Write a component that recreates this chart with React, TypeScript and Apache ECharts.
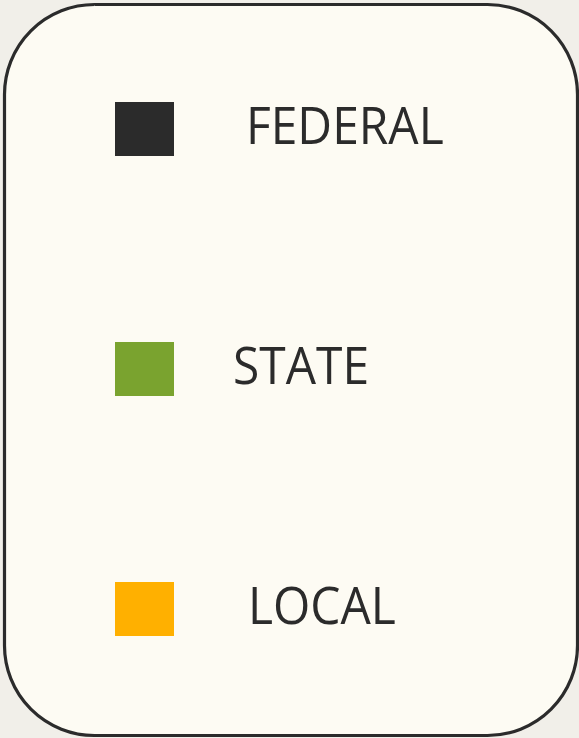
import React, { useEffect, useRef } from "react";
import * as echarts from "echarts";

const categories = ["FEDERAL", "STATE", "LOCAL"];
const colors = ["#2b2b2b", "#7aa32f", "#ffb000"];
const labelX = [246, 233, 248];

export default function App() {
  const ref = useRef<HTMLDivElement>(null);
  useEffect(() => {
    document.body.style.margin = "0";
    const chart = echarts.init(ref.current!, null, { renderer: "svg" });
    const items: any[] = [];
    categories.forEach((name, i) => {
      const top = 102 + i * 240;
      items.push({
        type: "rect",
        shape: { x: 115, y: top, width: 59, height: 54 },
        style: { fill: colors[i] },
      });
      items.push({
        type: "text",
        x: labelX[i],
        y: top + 22,
        scaleX: 0.94,
        style: {
          text: name,
          fill: "#2b2b2b",
          font: "51px 'Open Sans'",
          align: "left",
          verticalAlign: "middle",
        },
      });
    });
    chart.setOption({
      animation: false,
      backgroundColor: "#f1efe9",
      graphic: [
        {
          type: "rect",
          shape: { x: 4.5, y: 4.5, width: 573, height: 731, r: 90 },
          style: { fill: "#fdfbf3", stroke: "#2b2b2b", lineWidth: 3.2 },
        },
        ...items,
      ],
    });
    return () => chart.dispose();
  }, []);
  return <div ref={ref} style={{ width: 579, height: 738 }} />;
}
